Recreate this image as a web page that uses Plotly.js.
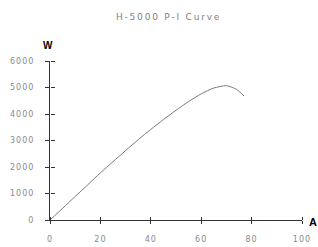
<!DOCTYPE html>
<html><head><meta charset="utf-8">
<script src="https://cdn.plot.ly/plotly-3.0.1.min.js"></script>
<style>
html,body{margin:0;padding:0;background:#fff}#c{width:318px;height:247px}
#c .gtitle{letter-spacing:1.8px}
#c .xtick text,#c .ytick text{letter-spacing:1px}
</style>
</head><body><div id="c"></div>
<script>
const current = [0, 5, 10, 15, 20, 25, 30, 35, 40, 45, 50, 55, 60, 65, 70, 74, 77];
const power = [0, 440, 890, 1330, 1780, 2200, 2620, 3030, 3420, 3790, 4140, 4470, 4760, 4980, 5070, 4930, 4680];
const xTicks = [0, 20, 40, 60, 80, 100];
const yTicks = [0, 1000, 2000, 3000, 4000, 5000, 6000];
const titleText = 'H-5000 P-I Curve';

const tickFont = {family: 'DejaVu Sans, sans-serif', size: 8, color: '#8a8a8a'};
const baseX = {range: [0, 100], tickvals: xTicks, showgrid: false, zeroline: false, fixedrange: true};
const baseY = {range: [0, 6000], tickvals: yTicks, showgrid: false, zeroline: false, fixedrange: true};

const traces = [
  {x: current, y: power, type: 'scatter', mode: 'lines',
   line: {color: '#7a7a7a', width: 1, shape: 'spline', smoothing: 0.6}, hoverinfo: 'skip'},
  {x: current, y: power, xaxis: 'x2', yaxis: 'y2', type: 'scatter', mode: 'lines',
   line: {color: 'rgba(0,0,0,0)', width: 0}, hoverinfo: 'skip', showlegend: false}
];

const layout = {
  width: 318, height: 247,
  margin: {l: 50, r: 16, t: 61, b: 27},
  paper_bgcolor: '#fff', plot_bgcolor: 'rgba(0,0,0,0)',
  showlegend: false,
  title: {text: titleText, font: {family: 'DejaVu Sans, sans-serif', size: 9, color: '#808080'}, x: 0.53, xanchor: 'center', y: 0.93, yanchor: 'middle'},
  xaxis: Object.assign({}, baseX, {
    showline: true, linecolor: '#333', linewidth: 1,
    ticks: 'outside', ticklen: 3, tickcolor: '#333', tickwidth: 1,
    tickfont: tickFont, ticklabelstandoff: 8
  }),
  xaxis2: Object.assign({}, baseX, {
    overlaying: 'x', anchor: 'free', position: 0, side: 'top', showline: false,
    ticks: 'outside', ticklen: 3, tickcolor: '#333', tickwidth: 1, showticklabels: false
  }),
  yaxis: Object.assign({}, baseY, {
    showline: true, linecolor: '#333', linewidth: 1,
    ticks: 'outside', ticklen: 4, tickcolor: '#333', tickwidth: 1,
    tickfont: tickFont, ticklabelstandoff: 9
  }),
  yaxis2: Object.assign({}, baseY, {
    overlaying: 'y', anchor: 'free', position: 0, side: 'right', showline: false,
    ticks: 'outside', ticklen: 4, tickcolor: '#333', tickwidth: 1, showticklabels: false
  }),
  annotations: [
    {text: '<b>W</b>', xref: 'paper', yref: 'paper', x: -0.008, y: 1.10, showarrow: false,
     font: {family: 'Liberation Sans, Arial, sans-serif', size: 10, color: '#000'}, xanchor: 'center', yanchor: 'middle'},
    {text: '<b>A</b>', xref: 'paper', yref: 'paper', x: 1.042, y: -0.012, showarrow: false,
     font: {family: 'Liberation Sans, Arial, sans-serif', size: 11, color: '#000'}, xanchor: 'center', yanchor: 'middle'}
  ]
};
Plotly.newPlot('c', traces, layout, {staticPlot: true, displayModeBar: false});
</script></body></html>
